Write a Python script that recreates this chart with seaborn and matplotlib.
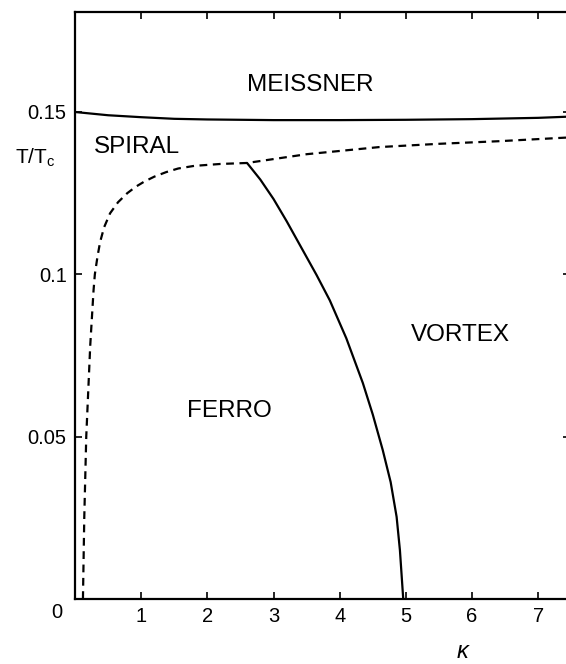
import numpy as np
import pandas as pd
import matplotlib
matplotlib.use("Agg")
import matplotlib.pyplot as plt
import seaborn as sns

# Meissner / spiral boundary (solid, top)
meissner_kappa = [0.0, 0.5, 1.0, 1.5, 2.0, 3.0, 4.0, 5.0, 6.0, 7.0, 7.5]
meissner_t = [0.1500, 0.1490, 0.1484, 0.1479, 0.1477, 0.1475, 0.1475, 0.1476, 0.1478, 0.1482, 0.1486]

# spiral boundary (dashed)
spiral_kappa = [0.12, 0.14, 0.17, 0.23, 0.28, 0.30, 0.34, 0.38, 0.44, 0.53, 0.65, 0.79, 0.92, 1.05,
                1.2, 1.38, 1.56, 1.8, 2.2, 2.6, 3.5, 4.6, 5.5, 6.4, 7.5]
spiral_t = [0.0, 0.025, 0.05, 0.078, 0.095, 0.100, 0.1055, 0.1100, 0.1145, 0.1188, 0.1222, 0.1250, 0.1270,
            0.1286, 0.1301, 0.1315, 0.1326, 0.1334, 0.1340, 0.1343, 0.1370, 0.1392, 0.1402, 0.1410, 0.1422]

# ferro / vortex boundary (solid)
vortex_kappa = [2.60, 2.80, 3.00, 3.20, 3.44, 3.65, 3.85, 4.10, 4.35, 4.50, 4.65, 4.77, 4.86, 4.91, 4.94, 4.96]
vortex_t = [0.1343, 0.1292, 0.1232, 0.1163, 0.1075, 0.0998, 0.0920, 0.0803, 0.0665, 0.0568, 0.0459, 0.0360,
            0.0253, 0.0150, 0.0060, 0.0]

x_ticks = [1, 2, 3, 4, 5, 6, 7]
y_ticks = [0.05, 0.1, 0.15]
y_ticklabels = ["0.05", "0.1", "0.15"]

regions = ["MEISSNER", "SPIRAL", "FERRO", "VORTEX"]
region_kappa = [3.55, 0.94, 2.33, 5.82]
region_t = [0.1583, 0.1392, 0.0579, 0.0813]

sns.set_style("ticks")
plt.rcParams['font.family'] = ['Liberation Sans', 'DejaVu Sans']
plt.rcParams['mathtext.fontset'] = 'custom'
plt.rcParams['mathtext.rm'] = 'Liberation Sans'
plt.rcParams['text.color'] = 'black'

fig = plt.figure(figsize=(5.66, 6.64), dpi=100)
ax = fig.add_axes([75 / 566, 65 / 664, 495 / 566, 587 / 664])

df_m = pd.DataFrame({"kappa": meissner_kappa, "T": meissner_t})
df_s = pd.DataFrame({"kappa": spiral_kappa, "T": spiral_t})
df_v = pd.DataFrame({"kappa": vortex_kappa, "T": vortex_t})

sns.lineplot(data=df_m, x="kappa", y="T", sort=False, estimator=None, color="black", lw=1.6, ax=ax)
sns.lineplot(data=df_v, x="kappa", y="T", sort=False, estimator=None, color="black", lw=1.6, ax=ax)
sns.lineplot(data=df_s, x="kappa", y="T", sort=False, estimator=None, color="black", lw=1.6,
             dashes=False, ax=ax).lines[-1].set_dashes((3.5, 2.5))

ax.set_xlim(0, 7.48)
ax.set_ylim(0, 0.1808)
ax.set_xticks(x_ticks)
ax.set_xticklabels([str(t) for t in x_ticks])
ax.set_yticks(y_ticks)
ax.set_yticklabels(y_ticklabels)
ax.tick_params(direction="in", length=5, width=1.2, top=True, right=True,
               labelsize=14.5, colors="black", pad=6)
for s in ax.spines.values():
    s.set_linewidth(1.6)
    s.set_color("black")
ax.set_xlabel("")
ax.set_ylabel("")

for name, k, t in zip(regions, region_kappa, region_t):
    ax.text(k, t, name, ha="center", va="center", fontsize=17.5, color="black")

ax.text(-0.27, -0.0042, "0", ha="center", va="center", fontsize=14.5, clip_on=False)
fig.text(35 / 566, 1 - 158 / 664, "T/T$_\\mathregular{c}$", ha="center", va="center", fontsize=15)
fig.text(463 / 566, 1 - 651 / 664, "κ", ha="center", va="center", fontsize=17, style="italic")

fig.savefig("out.png", dpi=100)
